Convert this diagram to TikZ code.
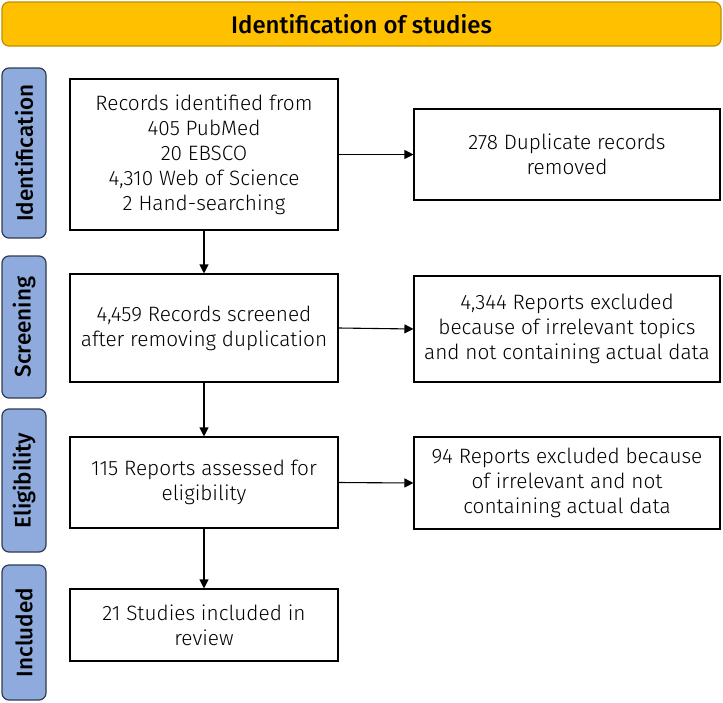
\documentclass[tikz,border=0pt]{standalone}
\usepackage{fontspec}
\setmainfont{Fira Sans}[UprightFont={* Light},BoldFont={* Medium}]
\usetikzlibrary{arrows.meta}
\definecolor{bannerfill}{HTML}{FFC000}
\definecolor{bannerline}{HTML}{BF9000}
\definecolor{sidefill}{HTML}{8FAADC}
\definecolor{sideline}{HTML}{2F3B52}
\tikzset{
  banner/.style={draw=bannerline, fill=bannerfill, line width=1.2pt, rounded corners=7pt,
    minimum width=719pt, minimum height=44pt, inner sep=0pt,
    font=\fontsize{24}{28}\selectfont\bfseries},
  side/.style={draw=sideline, fill=sidefill, line width=1.2pt, rounded corners=7pt,
    minimum height=44pt, inner sep=0pt, rotate=90,
    font=\fontsize{22.5}{26}\selectfont\bfseries},
  mainbox/.style={draw=black, line width=1.1pt, minimum width=268pt, inner sep=0pt,
    align=center, font=\fontsize{20.8}{25}\selectfont},
  rightbox/.style={draw=black, line width=1.1pt, minimum width=306pt, inner sep=0pt,
    align=center, font=\fontsize{20.8}{25}\selectfont},
  conn/.style={draw=black, line width=1.1pt, -{Triangle[length=9pt,width=9pt]}}
}
\begin{document}
\begin{tikzpicture}[x=1pt,y=-1pt]
\useasboundingbox (0,0) rectangle (723,702);
\node[banner] (top) at (361.5,24) {Identification of studies};
\node[side, minimum width=170pt] (sid) at (24,153) {Identification};
\node[side, minimum width=142pt] (sscr) at (24,327) {Screening};
\node[side, minimum width=143pt] (selig) at (24,480.5) {Eligibility};
\node[side, minimum width=135pt] (sinc) at (24,632.5) {Included};
\node[mainbox, minimum height=151pt] (b1) at (204,154.5) {Records identified from\\405 PubMed\\20 EBSCO\\4,310 Web of Science\\2 Hand-searching};
\node[mainbox, minimum height=108pt] (b2) at (204,328) {4,459 Records screened\\after removing duplication};
\node[mainbox, minimum height=91pt] (b3) at (204,482.5) {115 Reports assessed for\\eligibility};
\node[mainbox, minimum height=72pt] (b4) at (204,625) {21 Studies included in\\review};
\node[rightbox, minimum height=91pt] (r1) at (567,154.5) {278 Duplicate records\\removed};
\node[rightbox, minimum height=106pt] (r2) at (567,329) {4,344 Reports excluded\\because of irrelevant topics\\and not containing actual data};
\node[rightbox, minimum height=92pt] (r3) at (567,483) {94 Reports excluded because\\of irrelevant and not\\containing actual data};
\draw[conn] (b1.south) -- (b2.north);
\draw[conn] (b2.south) -- (b3.north);
\draw[conn] (b3.south) -- (b4.north);
\draw[conn] (b1.east) -- (r1.west);
\draw[conn] (b2.east) -- (r2.west);
\draw[conn] (b3.east) -- (r3.west);
\end{tikzpicture}
\end{document}
